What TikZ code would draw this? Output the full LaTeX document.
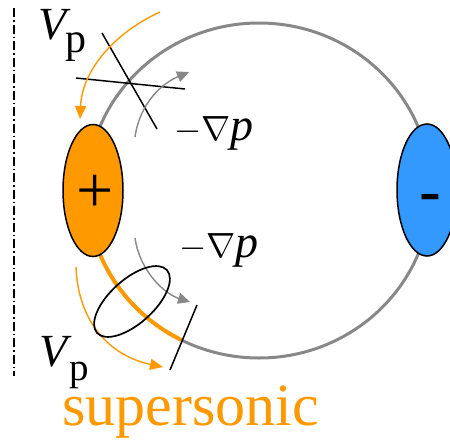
\documentclass[tikz,border=0pt]{standalone}
\usepackage{graphicx}
\usepackage{fontspec}
\setmainfont{Liberation Serif}
\newfontfamily\signfont{Liberation Sans}
\usetikzlibrary{arrows.meta,shapes.geometric}
\definecolor{orng}{RGB}{255,153,0}
\definecolor{blu}{RGB}{51,153,255}
\definecolor{gry}{RGB}{136,136,136}
\tikzset{
  ring/.style={draw=gry,line width=3pt},
  grayarrow/.style={draw=gry,line width=1.4pt,-{Triangle[length=12pt,width=11pt]}},
  orangearrow/.style={draw=orng,line width=1.4pt,-{Triangle[length=13pt,width=11pt]}},
  thinline/.style={draw=black,line width=1.5pt},
  lbl/.style={inner sep=0pt,anchor=base west},
}
\newcommand{\gradlbl}{{\normalsize\scalebox{3.5}{$-\nabla$}}{\fontsize{46}{46}\selectfont\textit{p}}}
\begin{document}
\begin{tikzpicture}[x=1pt,y=-1pt]
\useasboundingbox (0,0) rectangle (450,442);
% axis
\draw[line width=1.2pt,dash pattern=on 9pt off 3pt on 1.5pt off 3pt] (14,8) -- (14,376);
% ring
\coordinate (c) at (259,190.5);
\draw[ring] (c) ellipse [x radius=172,y radius=167.5];
\draw[draw=orng,line width=4pt] (c) ++(157:172 and 167.5) arc[start angle=157,end angle=117,x radius=172,y radius=167.5];
% electrodes
\node[draw=black,line width=1.5pt,fill=orng,ellipse,minimum width=60pt,minimum height=132pt,inner sep=0pt] (plus) at (93,190.5) {};
\node[draw=black,line width=1.5pt,fill=blu,ellipse,minimum width=60pt,minimum height=132pt,inner sep=0pt] (minus) at (427,190) {};
\node[inner sep=0pt,anchor=base,font=\fontsize{66}{66}\selectfont] (plussign) at (95.5,212.5) {+};
\node[inner sep=0pt,anchor=base,xscale=1.5,font=\signfont\bfseries\fontsize{44}{44}\selectfont] (minussign) at (430,208.5) {-};
% top crossing lines
\coordinate (a1) at (102,33); \coordinate (a2) at (157,129);
\coordinate (b1) at (76,78); \coordinate (b2) at (185,89);
\draw[thinline] (a1) -- (a2);
\draw[thinline] (b1) -- (b2);
% top arrows
\coordinate (o1s) at (160,12); \coordinate (o1e) at (80,119);
\draw[orangearrow] (o1s) .. controls (112,34) and (82,72) .. (o1e);
\coordinate (g1s) at (135,137); \coordinate (g1e) at (189,72);
\draw[grayarrow] (g1s) .. controls (140,102) and (163,83) .. (g1e);
% bottom arrows
\coordinate (g2s) at (135,238); \coordinate (g2e) at (190,302);
\draw[grayarrow] (g2s) .. controls (140,272) and (165,294) .. (g2e);
\coordinate (o2s) at (76,267); \coordinate (o2e) at (163,367);
\draw[orangearrow] (o2s) .. controls (78,322) and (110,356) .. (o2e);
% tilted ellipse and line
\draw[line width=1.7pt,rotate around={42:(132,301.5)}] (132,301.5) ellipse [x radius=47,y radius=22];
\coordinate (l1) at (170,370); \coordinate (l2) at (197,305);
\draw[thinline] (l1) -- (l2);
% labels
\node[lbl,font=\fontsize{46}{46}\selectfont] (v1) at (38,39) {\textit{V}};
\node[lbl,font=\fontsize{42}{42}\selectfont] (p1) at (65,52) {p};
\node[lbl,font=\fontsize{46}{46}\selectfont] (v2) at (39,366) {\textit{V}};
\node[lbl,font=\fontsize{39}{39}\selectfont] (p2) at (69,380) {p};
\node[lbl] (g1) at (174,140) {\gradlbl};
\node[lbl] (g2) at (179,257) {\gradlbl};
\node[lbl,text=orng,font=\fontsize{60}{60}\selectfont] (ss) at (62,425) {supersonic};
\end{tikzpicture}
\end{document}
